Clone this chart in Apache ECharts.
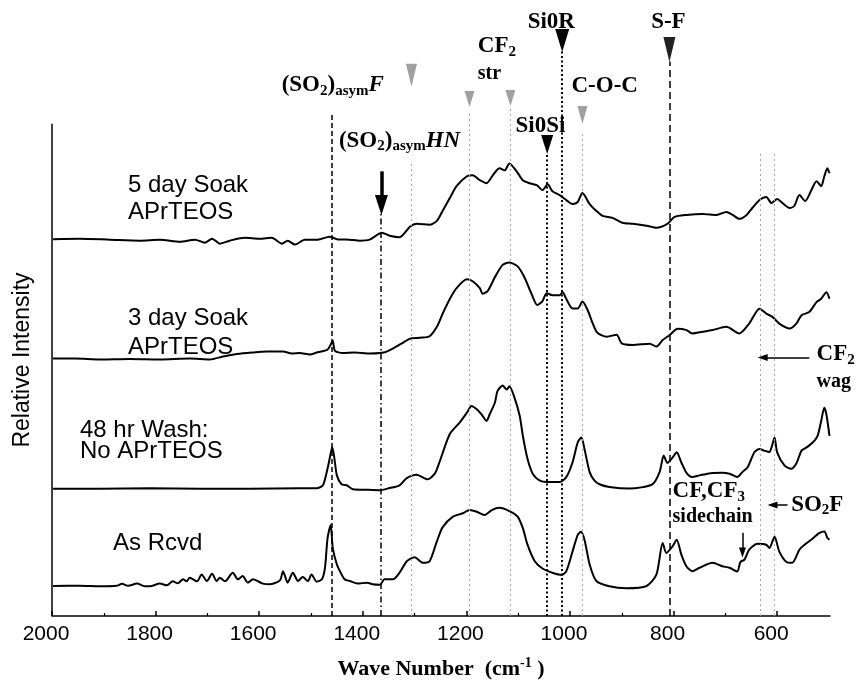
<!DOCTYPE html>
<html><head><meta charset="utf-8">
<script src="https://cdn.jsdelivr.net/npm/echarts@6/dist/echarts.min.js"></script>
<style>html,body{margin:0;padding:0;background:#fff}#c{width:857px;height:685px}</style>
</head><body><div id="c"></div>
<script>
// ---- tick values ----
const xTickLabels = [600, 800, 1000, 1200, 1400, 1600, 1800, 2000];
const xMinorTicks = [700, 900, 1100, 1300, 1500, 1700, 1900];

// ---- spectra: [wave number, offset intensity] ----
const soak5 = [[1998,380.5],[1946,381],[1888,380],[1830,379],[1792,380],[1753,378],[1724,380],[1705,377],[1691,381],[1676,376],[1657,379],[1628,382],[1599,381],[1576,382],[1556,376],[1545,379],[1531,375],[1512,380],[1487,380],[1464,383],[1450,380.5],[1425,380],[1406,379],[1387,380],[1363,387],[1348,384],[1329,382.5],[1309,393],[1296,396],[1271,395],[1257,399],[1246,409],[1232,422],[1219,434],[1199,444],[1188,445],[1174,440],[1161,437],[1149,445],[1136,452],[1126,450],[1117,457],[1103,449],[1091,440],[1078,437],[1064,435],[1053,430],[1043,436],[1034,429],[1020,425],[1007,420],[995,416],[985,418],[976,427],[962,416],[949,409],[937,404],[918,402],[899,397],[879,396],[852,394],[833,392],[812,396],[798,403],[775,405],[744,406],[717,405],[698,408],[686,405],[673,401],[659,405],[648,412],[634,420],[621,423],[611,417],[600,421],[590,417],[576,412],[567,414],[557,425],[546,419],[534,430],[524,439],[515,434],[509,444],[503,452],[499,447]];

const soak3 = [[1998,260],[1956,260],[1907,259],[1850,259.5],[1792,259],[1734,260],[1695,259],[1670,262],[1643,264.5],[1614,266],[1585,267],[1554,267],[1537,265],[1522,265.5],[1502,264],[1489,266],[1468,269],[1462,274],[1458,278],[1454,268],[1439,265.5],[1416,266],[1387,265],[1367,265.5],[1354,267],[1329,274],[1319,277],[1309,280],[1290,281],[1271,282.5],[1257,292],[1246,305],[1232,320],[1219,331],[1199,340],[1188,338],[1174,331],[1169,325.5],[1159,328],[1145,342],[1130,354.5],[1117,357],[1101,353],[1088,342],[1074,325],[1063,314],[1053,318],[1045,326],[1034,324],[1020,324],[1014,327],[1007,320],[995,310.5],[985,310.5],[976,317.5],[966,309],[956,295.3],[947,286],[929,282],[910,284],[900,275.3],[879,273.7],[846,275],[833,272],[821,278.7],[808,283.5],[792,290],[775,288.7],[764,285.3],[744,287],[725,288.7],[698,292],[673,285.3],[654,295.3],[634,310.3],[621,305.3],[609,302],[596,295.3],[576,290.3],[563,295.3],[553,303.7],[538,307],[524,317],[515,320.3],[505,327],[499,320.3]];

const wash48 = [[1998,128.5],[1907,128.5],[1811,129],[1715,128.5],[1618,128.5],[1522,129],[1489,129],[1477,132],[1468,149],[1462,164],[1459,170.5],[1455,160],[1450,142],[1441,133],[1431,132],[1419,128],[1396,127.5],[1367,127],[1348,129.3],[1329,132],[1315,139.3],[1296,142.7],[1275,138],[1261,143.7],[1252,155.3],[1232,183.7],[1213,195.3],[1199,205.3],[1190,212],[1180,208.7],[1171,203.7],[1161,197],[1155,203.7],[1145,215.3],[1140,227],[1130,232.7],[1122,228.7],[1117,232],[1107,220.3],[1097,202],[1091,182],[1082,158.7],[1072,143.7],[1059,137],[1045,135.3],[1020,135.3],[1007,140.3],[995,155.3],[985,175.3],[978,180.3],[972,168.7],[962,145.3],[953,137],[943,133],[924,130.3],[885,128.7],[841,133],[827,145.3],[819,162],[812,154.5],[802,160],[794,165.3],[785,155],[775,144.5],[764,140.3],[750,142],[725,144.5],[706,144.7],[692,143.7],[677,140.3],[667,145.5],[657,150.3],[644,165.3],[634,168.7],[625,167],[615,165.5],[611,170],[605,180.3],[600,165.3],[586,152],[573,148.7],[563,154],[553,167],[544,170],[532,175],[522,182],[515,197],[509,210.3],[505,203.7],[499,182]];

const asRcvd = [[1998,30.3],[1946,30.5],[1907,30],[1875,30.5],[1865,32.5],[1853,30.5],[1836,32.7],[1821,30],[1811,30],[1792,32.7],[1778,31],[1767,35],[1757,33],[1747,37],[1740,35],[1734,38.7],[1720,35],[1711,42],[1701,35.3],[1691,42.7],[1682,35.3],[1676,38.7],[1666,35],[1651,43.7],[1641,37],[1632,40.3],[1622,33.7],[1612,37],[1593,32.7],[1580,32],[1560,36],[1554,45.3],[1545,33.7],[1535,43.7],[1525,35.3],[1516,39.3],[1506,35.3],[1499,42],[1489,34.7],[1479,37],[1473,48.7],[1468,78.7],[1462,92],[1458,68.7],[1450,52],[1441,42],[1435,37],[1425,35.3],[1410,32.7],[1392,33.7],[1381,32],[1367,31.5],[1358,37],[1342,37],[1329,43.7],[1315,55.3],[1300,59.3],[1284,53.7],[1271,55.3],[1257,75.3],[1246,89.5],[1226,100.3],[1207,103.7],[1194,107],[1180,105.3],[1165,102],[1151,107],[1136,109.3],[1117,106],[1101,100.3],[1091,88.7],[1082,72],[1068,55.3],[1053,48],[1034,43.7],[1016,41.5],[1007,45.3],[995,65.3],[985,82],[979,85],[972,77],[962,52],[949,35.3],[924,30],[891,28],[852,30.3],[833,42],[821,73.7],[814,63.7],[802,70.3],[794,77],[785,62],[775,50],[764,45.3],[750,48.7],[725,53.7],[706,50.3],[692,48.7],[677,45],[671,54.5],[663,57],[654,67],[638,73],[621,72],[615,68.7],[605,80],[596,65.3],[582,54.5],[571,53.7],[557,67],[547,72],[532,78],[519,83.7],[509,85.3],[503,78.7],[499,77]];

// ---- reference lines: [wave number, top of line, style] ----
const refLines = [[1460,509,'dash'],[1365,415,'dashdot'],[1306,457,'grey'],[1194,507,'grey'],[1115,512,'grey'],[1044,467,'dot'],[1015,570,'dot'],[976,490,'grey'],[808,560,'longdash'],[632,467,'grey'],[605,467,'grey']];
// ---- triangle markers: [wave number, centre, kind] ----
const triMarkers = [[1306,546,'greyTall'],[1194,522,'greySmall'],[1115,523,'greySmall'],[976,506,'greyMid'],[1044,476,'blackSmall'],[1015,581,'blackBig'],[808,572,'blackNarrow']];
// ---- arrows: [wave1, y1, wave2, y2, kind] ----
const arrows = [[1364,449,1364,415,'big'],[538,261,628,261,'small'],[580,112,609,112,'small'],[667,84,667,64,'small']];

const SANS = '"Liberation Sans", Arial, Helvetica, sans-serif';
const SERIF = '"Liberation Serif", "Times New Roman", Times, serif';

const lineStyles = {
  dash: {color:'#000', width:1.5, type:[5,3]},
  dashdot: {color:'#000', width:1.5, type:[6,3,1.5,3]},
  grey: {color:'#aaaaaa', width:1, type:[2,3]},
  dot: {color:'#000', width:2, type:[2,2.5]},
  longdash: {color:'#000', width:1.5, type:[7,4]}
};
const triStyles = {
  greyTall: {size:[11,23], color:'#a0a0a0'},
  greySmall: {size:[10,16], color:'#a0a0a0'},
  greyMid: {size:[10,18], color:'#a0a0a0'},
  blackSmall: {size:[12,19], color:'#000'},
  blackBig: {size:[14,23], color:'#000'},
  blackNarrow: {size:[12,25], color:'#222'}
};

const mlData = [[{coord:[2000,0], lineStyle:{color:'#000', width:1.5, type:'solid'}}, {coord:[2000,497]}]];
refLines.forEach(([w, top, k]) => mlData.push([{coord:[w,0], lineStyle: lineStyles[k]}, {coord:[w,top]}]));
arrows.forEach(([w1,y1,w2,y2,k]) => {
  const big = k === 'big';
  mlData.push([
    {coord:[w1,y1], symbol:'none', lineStyle:{color:'#000', width: big ? 3.5 : 1.5, type:'solid'}},
    {coord:[w2,y2], symbol:'triangle', symbolSize: big ? [13,20] : [7,10]}
  ]);
});
const mpData = triMarkers.map(([w,c,k]) => ({coord:[w,c], symbol:'triangle', symbolRotate:180, symbolSize: triStyles[k].size, itemStyle:{color: triStyles[k].color}}));

const chart = echarts.init(document.getElementById('c'), null, {renderer:'canvas'});
const mkSeries = (name, data) => ({name, type:'line', data, symbol:'none', smooth:0.25, lineStyle:{color:'#000', width:2}, z:3, silent:true});
chart.setOption({
  animation:false,
  backgroundColor:'#fff',
  grid:{left:52, right:27, top:0, bottom:63},
  xAxis:[{
    type:'value', inverse:true, min:498, max:2000,
    axisLine:{show:true, lineStyle:{color:'#000', width:1.5}},
    axisTick:{show:true, customValues:xTickLabels, inside:true, length:5, lineStyle:{color:'#000', width:1.5}},
    axisLabel:{show:true, customValues:xTickLabels, formatter:(v) => String(v), color:'#000', fontFamily:SANS, fontSize:21, margin:8, padding:[0,12,0,0]},
    splitLine:{show:false},
    name:'{b|Wave Number  (cm}{sup|-1}{b| )}', nameLocation:'middle', nameGap:40,
    nameTextStyle:{rich:{
      b:{fontFamily:SERIF, fontWeight:'bold', fontSize:22, lineHeight:26, color:'#000', verticalAlign:'middle'},
      sup:{fontFamily:SERIF, fontWeight:'bold', fontSize:14, lineHeight:14, color:'#000', verticalAlign:'top'}
    }}
  },{
    type:'value', inverse:true, min:498, max:2000, position:'bottom', offset:0,
    axisLine:{show:false},
    axisTick:{show:true, customValues:xMinorTicks, inside:true, length:3, lineStyle:{color:'#000', width:1.2}},
    axisLabel:{show:false}, splitLine:{show:false}
  }],
  yAxis:{type:'value', min:0, max:622, show:false},
  series:[
    mkSeries('5 day Soak APrTEOS', soak5),
    mkSeries('3 day Soak APrTEOS', soak3),
    mkSeries('48 hr Wash: No APrTEOS', wash48),
    mkSeries('As Rcvd', asRcvd),
    {type:'line', data:[], clip:false, silent:true, z:2,
     markLine:{silent:true, symbol:['none','none'], label:{show:false}, animation:false, data:mlData},
     markPoint:{silent:true, label:{show:false}, animation:false, data:mpData}}
  ]
});

// ---- annotation texts ----
const R = {
  b:{fontFamily:SERIF, fontWeight:'bold', fontSize:23, lineHeight:26, verticalAlign:'middle', color:'#000'},
  s:{fontFamily:SERIF, fontWeight:'bold', fontSize:15, lineHeight:13, verticalAlign:'bottom', color:'#000'},
  i:{fontFamily:SERIF, fontWeight:'bold', fontStyle:'italic', fontSize:23, lineHeight:26, verticalAlign:'middle', color:'#000'},
  sm:{fontFamily:SERIF, fontWeight:'bold', fontSize:20, lineHeight:24, verticalAlign:'middle', color:'#000'}
};
const annotations = [
  ['{b|(SO}{s|2}{b|)}{s|asym}{i|F}', 1458, 536, 'center'],
  ['{b|(SO}{s|2}{b|)}{s|asym}{i|HN}', 1329, 480, 'center'],
  ['{b|CF}{s|2}', 1178, 575, 'left'],
  ['{sm|str}', 1178, 547, 'left'],
  ['{b|Si0R}', 1036, 600, 'center'],
  ['{b|S-F}', 810, 600, 'center'],
  ['{b|C-O-C}', 933, 535, 'center'],
  ['{b|Si0Si}', 1057, 495, 'center'],
  ['{b|CF}{s|2}', 524, 264, 'left'],
  ['{sm|wag}', 524, 236, 'left'],
  ['{b|CF,CF}{s|3}', 802, 126, 'left'],
  ['{sm|sidechain}', 802, 100, 'left'],
  ['{b|SO}{s|2}{b|F}', 573, 112, 'left']
];
const curveLabels = [
  ['5 day Soak', 128, 185], ['APrTEOS', 128, 212],
  ['3 day Soak', 128, 318], ['APrTEOS', 128, 347],
  ['48 hr Wash:', 80, 430], ['No APrTEOS', 80, 451],
  ['As Rcvd', 113, 543]
];
const graphic = [];
annotations.forEach(([t, w, v, al]) => {
  const p = chart.convertToPixel({xAxisIndex:0, yAxisIndex:0}, [w, v]);
  graphic.push({type:'text', x:p[0], y:p[1], silent:true, z:10,
    style:{text:t, rich:R, align:al, textAlign:al, verticalAlign:'middle', textVerticalAlign:'middle', fill:'#000'}});
});
curveLabels.forEach(([t, x, y]) => {
  graphic.push({type:'text', x, y, silent:true, z:10,
    style:{text:t, fontFamily:SANS, fontSize:24, fill:'#000', align:'left', textAlign:'left', verticalAlign:'middle', textVerticalAlign:'middle'}});
});
graphic.push({type:'text', x:23, y:360, rotation:Math.PI/2, silent:true, z:10,
  style:{text:'Relative Intensity', fontFamily:SANS, fontSize:23, fill:'#000', align:'center', textAlign:'center', verticalAlign:'middle', textVerticalAlign:'middle'}});
chart.setOption({graphic});
</script>
</body></html>
